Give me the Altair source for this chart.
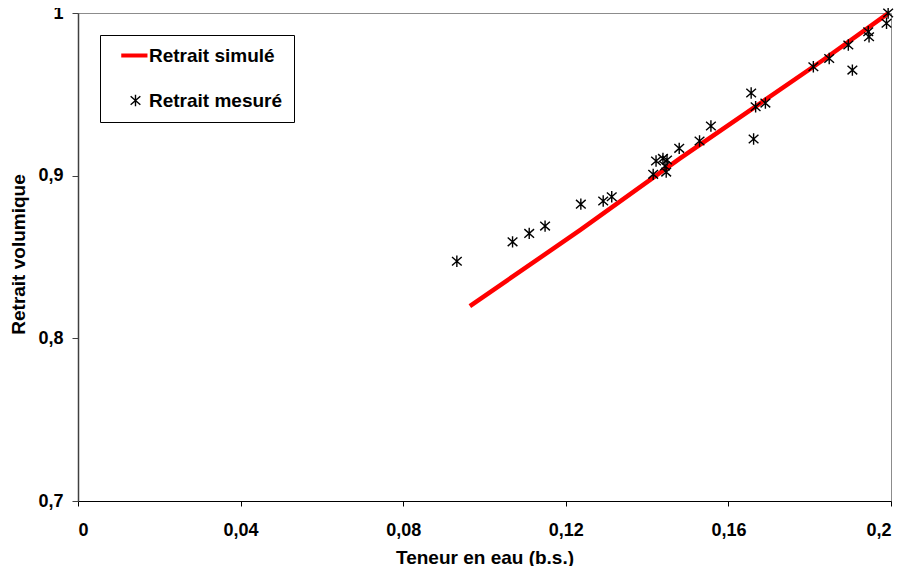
import altair as alt
import pandas as pd

# Measured points (Teneur en eau, Retrait volumique)
meas_x = [0.0932, 0.1069, 0.1110, 0.1149, 0.1237, 0.1292, 0.1313, 0.1415, 0.1422,
          0.1439, 0.1449, 0.1444, 0.1447, 0.1479, 0.1529, 0.1557, 0.1656, 0.1667,
          0.1691, 0.1662, 0.1809, 0.1848, 0.1895, 0.1905, 0.1944, 0.1946, 0.1989, 0.1993]
meas_y = [0.8474, 0.8593, 0.8645, 0.8690, 0.8825, 0.8844, 0.8870, 0.9008, 0.9090,
          0.9106, 0.9096, 0.9059, 0.9022, 0.9168, 0.9213, 0.9305, 0.9508, 0.9424,
          0.9446, 0.9225, 0.9670, 0.9720, 0.9803, 0.9649, 0.9885, 0.9854, 0.9937, 1.0000]

# Simulated curve
sim_x = [0.0964, 0.1235, 0.1481, 0.1833, 0.1993]
sim_y = [0.8198, 0.8665, 0.9106, 0.9711, 0.9998]

series = ["Retrait simulé", "Retrait mesuré"]
x_ticks = [0, 0.04, 0.08, 0.12, 0.16, 0.2]
y_ticks = [0.7, 0.8, 0.9, 1.0]

sim_df = pd.DataFrame({"x": sim_x, "y": sim_y, "s": series[0]})
meas_df = pd.DataFrame({"x": meas_x, "y": meas_y, "s": series[1]})

FONT = "Liberation Sans"
STAR = "M0,-1L0,1M-0.85,-0.75L0.85,0.75M-0.85,0.75L0.85,-0.75"
LINE = "M-2.5,0L2.1,0"

xenc = alt.X("x:Q", scale=alt.Scale(domain=[0, 0.2], nice=False, zero=False),
             axis=alt.Axis(values=x_ticks, title="Teneur en eau (b.s.)", grid=False,
                           labelExpr="replace(format(datum.value, '.2~f'), '.', ',')",
                           domainColor="black", tickColor="black", tickSize=5,
                           labelPadding=15, titleY=56, titleBaseline="middle"))
yenc = alt.Y("y:Q", scale=alt.Scale(domain=[0.7, 1.0], nice=False, zero=False),
             axis=alt.Axis(values=y_ticks, title="Retrait volumique", grid=False,
                           labelExpr="replace(format(datum.value, '.1~f'), '.', ',')",
                           domainColor="#404040", domainWidth=1.5, tickColor="#404040",
                           tickSize=6, labelPadding=9, titleX=-60, titleY=241,
                           titleAngle=270, titleBaseline="middle", titleAlign="center"))

line = alt.Chart(sim_df).mark_line(color="red", strokeWidth=4.5, opacity=1).encode(x=xenc, y=yenc)

legend = alt.Legend(title=None, orient="none", legendX=22, legendY=22,
                    strokeColor="black", fillColor="white", padding=11,
                    symbolOffset=15, labelOffset=4, rowPadding=25,
                    labelFont=FONT, labelFontSize=19, labelFontWeight="bold",
                    labelColor="black", symbolSize=130, symbolOpacity=1, labelLimit=400)

pts = alt.Chart(meas_df).mark_point(filled=False, size=130, opacity=1).encode(
    x=xenc, y=yenc,
    color=alt.Color("s:N", scale=alt.Scale(domain=series, range=["red", "black"]), legend=legend),
    shape=alt.Shape("s:N", scale=alt.Scale(domain=series, range=[LINE, STAR]), legend=legend),
    strokeWidth=alt.StrokeWidth("s:N", scale=alt.Scale(domain=series, range=[4, 1.4]), legend=legend),
)

chart = alt.layer(line, pts).properties(
    width=813, height=488, background="white",
    autosize=alt.AutoSizeParams(type="none"),
    padding={"left": 70, "top": 5, "right": 7, "bottom": 65},
).configure_view(stroke="#8c8c8c", strokeWidth=1).configure_axis(
    labelFont=FONT, labelFontSize=18, labelFontWeight="bold", labelColor="black",
    titleFont=FONT, titleFontSize=19, titleFontWeight="bold", titleColor="black",
)

chart.save("out.html", embed_options={"renderer": "svg", "actions": False})
